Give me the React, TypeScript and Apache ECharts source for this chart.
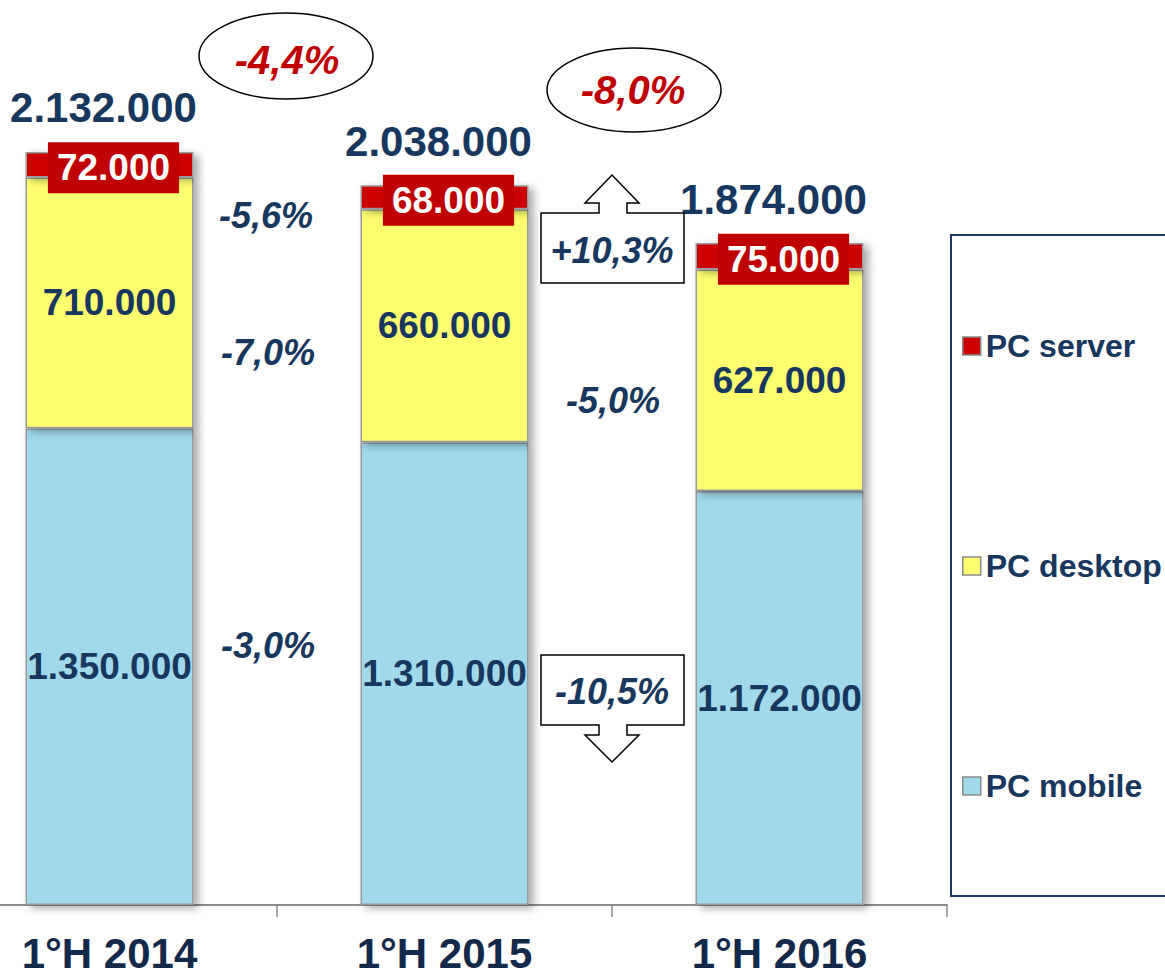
import React, { useEffect, useRef } from "react";
import * as echarts from "echarts";

const categories = ["1°H 2014", "1°H 2015", "1°H 2016"];
const mobile = [1350000, 1310000, 1172000];
const desktop = [710000, 660000, 627000];
const server = [72000, 68000, 75000];
const totals = [2132000, 2038000, 1874000];
const seriesNames = ["PC mobile", "PC desktop", "PC server"];
const legendOrder = ["PC server", "PC desktop", "PC mobile"];
// changes 2014->2015 and 2015->2016: server, desktop, mobile
const change1415 = ["-5,6%", "-7,0%", "-3,0%"];
const change1516 = ["+10,3%", "-5,0%", "-10,5%"];
const totalChange = ["-4,4%", "-8,0%"];

const FONT = '"Liberation Sans", Arial, sans-serif';
const NAVY = "#17375e";
const RED = "#c00000";
const OX = 58; // the chart canvas starts 58px left of the page

const fmt = (n: number) => String(n).replace(/\B(?=(\d{3})+(?!\d))/g, ".");

export default function App() {
  const ref = useRef<HTMLDivElement>(null);
  useEffect(() => {
    if (!ref.current) return;
    const chart = echarts.init(ref.current, undefined, { renderer: "svg" });
    const barStyle = (color: string) => ({
      color,
      borderColor: "#9a9a9a",
      borderWidth: 1.5,
      shadowColor: "rgba(0,0,0,0.35)",
      shadowBlur: 8,
      shadowOffsetX: 5,
      shadowOffsetY: 3,
    });
    const insideLabel = {
      show: true,
      position: "inside",
      fontFamily: FONT,
      fontWeight: "bold",
      fontSize: 37,
      color: NAVY,
      formatter: (p: any) => fmt(p.value),
    };
    const pctText = (text: string, x: number, y: number, color = NAVY, size = 36) => ({
      type: "text",
      x: x + OX,
      y,
      style: {
        text,
        fill: color,
        font: `italic bold ${size}px ${FONT}`,
        align: "center",
        verticalAlign: "middle",
        textAlign: "center",
        textVerticalAlign: "middle",
      },
      z: 10,
    });
    const pts = (arr: number[][]) => arr.map(([x, y]) => [x + OX, y]);
    const arrowStroke = { fill: "#ffffff", stroke: "#000000", lineWidth: 1.5 };
    chart.setOption({
      animation: false,
      backgroundColor: "#ffffff",
      grid: { left: 0, right: 218, top: 22, bottom: 68, containLabel: false },
      xAxis: {
        type: "category",
        data: categories,
        axisLine: { show: true, lineStyle: { color: "#8c8c8c", width: 2 } },
        axisTick: { show: true, length: 12, lineStyle: { color: "#8c8c8c", width: 1.5 } },
        axisLabel: {
          margin: 29,
          fontFamily: FONT,
          fontWeight: "bold",
          fontSize: 42,
          lineHeight: 38,
          color: "#13294b",
        },
      },
      yAxis: { type: "value", min: 0, max: 2500000, show: false, splitLine: { show: false } },
      legend: {
        data: legendOrder,
        orient: "vertical",
        left: 951 + OX,
        top: 235,
        padding: [95, 60, 94, 11],
        itemGap: 188,
        itemWidth: 18,
        itemHeight: 18,
        icon: "rect",
        borderColor: "#1f3864",
        borderWidth: 2,
        itemStyle: { borderColor: "#8a8a8a", borderWidth: 1.5, shadowBlur: 0, shadowOffsetX: 0, shadowOffsetY: 0 },
        textStyle: { fontFamily: FONT, fontWeight: "bold", fontSize: 32, color: NAVY, lineHeight: 32 },
      },
      series: [
        {
          name: seriesNames[0],
          type: "bar",
          stack: "pc",
          barWidth: 168,
          data: mobile,
          itemStyle: barStyle("#9fd9ea"),
          label: insideLabel,
        },
        {
          name: seriesNames[1],
          type: "bar",
          stack: "pc",
          barWidth: 168,
          data: desktop,
          itemStyle: barStyle("#ffff70"),
          label: insideLabel,
        },
        {
          name: seriesNames[2],
          type: "bar",
          stack: "pc",
          barWidth: 168,
          data: server,
          itemStyle: barStyle("#cc0000"),
          label: {
            show: true,
            position: "inside",
            offset: [4, 3],
            fontFamily: FONT,
            fontWeight: "bold",
            fontSize: 37,
            lineHeight: 37,
            color: "#ffffff",
            backgroundColor: RED,
            padding: [7, 9],
            formatter: (p: any) => fmt(p.value),
          },
        },
        {
          name: "Totale",
          type: "bar",
          barWidth: 168,
          barGap: "-100%",
          data: totals,
          silent: true,
          itemStyle: { color: "rgba(0,0,0,0)" },
          label: {
            show: true,
            position: "top",
            distance: 23,
            offset: [-6, 0],
            fontFamily: FONT,
            fontWeight: "bold",
            fontSize: 42,
            color: NAVY,
            formatter: (p: any) => fmt(p.value),
          },
          z: 5,
        },
      ],
      graphic: [
        { type: "ellipse", shape: { cx: 286 + OX, cy: 56, rx: 87, ry: 43 }, style: { fill: "#ffffff", stroke: "#000", lineWidth: 1.5 }, z: 9 },
        pctText(totalChange[0], 287, 60, RED, 40),
        { type: "ellipse", shape: { cx: 634 + OX, cy: 90, rx: 87, ry: 42 }, style: { fill: "#ffffff", stroke: "#000", lineWidth: 1.5 }, z: 9 },
        pctText(totalChange[1], 633, 90, RED, 40),
        pctText(change1415[0], 266, 215),
        pctText(change1415[1], 268, 352),
        pctText(change1415[2], 268, 645),
        pctText(change1516[1], 613, 400),
        {
          type: "polygon",
          shape: {
            points: pts([
              [541, 283], [541, 213], [599, 213], [599, 203], [585, 203], [612, 175],
              [639, 203], [627, 203], [627, 213], [684, 213], [684, 283],
            ]),
          },
          style: arrowStroke,
          z: 9,
        },
        pctText(change1516[0], 612, 250),
        {
          type: "polygon",
          shape: {
            points: pts([
              [541, 655], [684, 655], [684, 725], [627, 725], [627, 735], [639, 735],
              [612, 762], [585, 735], [599, 735], [599, 725], [541, 725],
            ]),
          },
          style: arrowStroke,
          z: 9,
        },
        pctText(change1516[2], 612, 691),
      ],
    });
    return () => chart.dispose();
  }, []);
  return (
    <div
      ref={ref}
      style={{ position: "fixed", left: -OX, top: 0, width: 1165 + OX, height: 974, background: "#fff" }}
    />
  );
}
